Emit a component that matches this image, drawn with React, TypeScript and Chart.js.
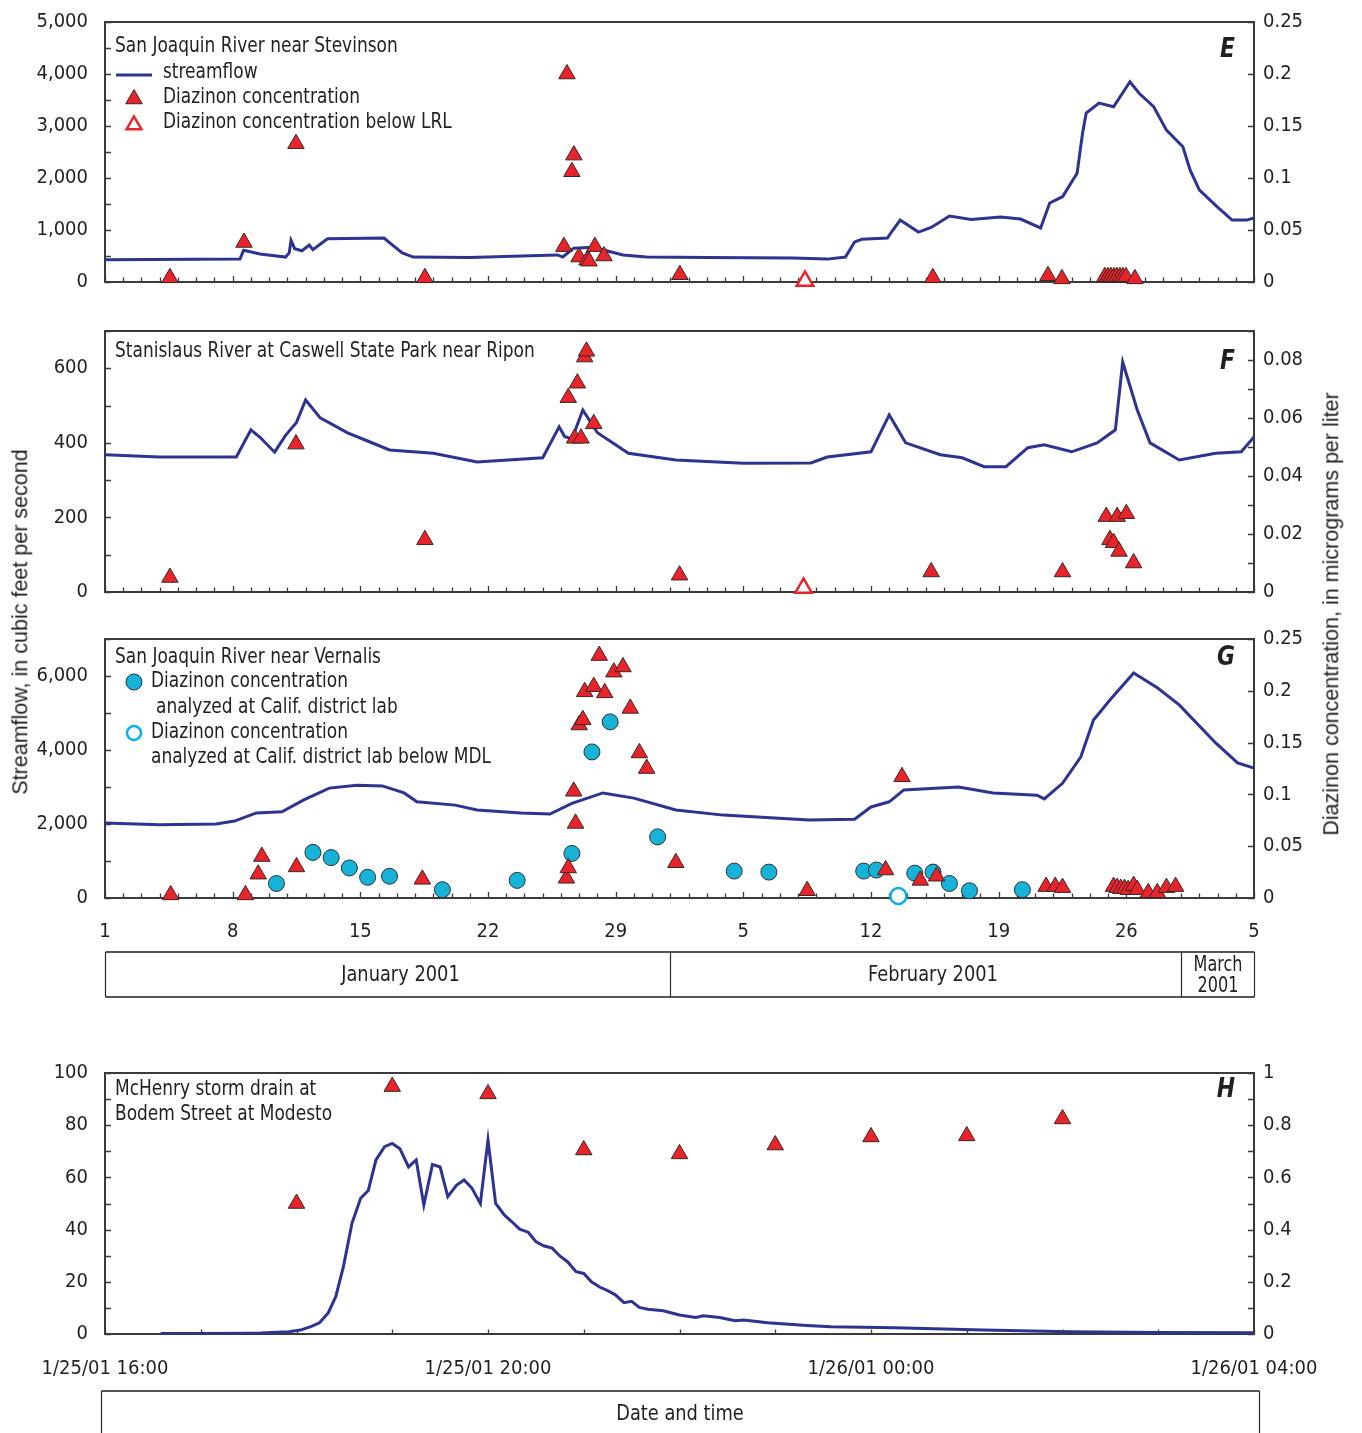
import React, { useEffect, useRef } from 'react';
import { Chart, registerables } from 'chart.js';

Chart.register(...registerables);

// ---------------- DATA ----------------
// x for panels E-G: days since Jan 1, 2001 (0 = Jan 1, 63 = Mar 5)
const dayTickLabels = ['1', '8', '15', '22', '29', '5', '12', '19', '26', '5'];
const hourTickLabels = ['1/25/01 16:00', '1/25/01 20:00', '1/26/01 00:00', '1/26/01 04:00'];
const monthLabels = ['January 2001', 'February 2001', 'March', '2001'];

// E: San Joaquin River near Stevinson
const stevinsonFlowDay = [0, 7.4, 7.6, 8.5, 9.9, 10.1, 10.2, 10.4, 10.8, 11.2, 11.4, 12.2, 15.3, 15.8, 16.3, 16.9, 20, 24.8, 25.1, 25.7, 26.8, 27.5, 28.4, 29.7, 33, 37.7, 39.6, 40.6, 41.1, 41.5, 42.9, 43.2, 43.6, 44.6, 45.3, 46.3, 47.5, 49.1, 50.2, 51.3, 51.8, 52.5, 53.3, 53.6, 53.8, 54.5, 55.3, 56.2, 56.7, 57.5, 58.2, 59.1, 59.5, 60.0, 61.0, 61.8, 62.6, 63];
const stevinsonFlowCfs = [430, 440, 610, 540, 480, 560, 800, 640, 600, 710, 620, 830, 845, 700, 560, 480, 470, 520, 480, 650, 670, 600, 520, 480, 470, 460, 440, 480, 770, 820, 845, 1000, 1190, 960, 1050, 1270, 1200, 1250, 1210, 1040, 1520, 1640, 2090, 2860, 3250, 3440, 3370, 3850, 3630, 3370, 2920, 2600, 2150, 1770, 1440, 1190, 1190, 1230];
const stevinsonConcDay = [3.56, 7.62, 10.47, 17.54, 25.33, 25.71, 25.6, 25.16, 25.99, 26.43, 26.54, 26.86, 27.36, 31.52, 45.39, 51.7, 52.47, 54.82, 54.99, 55.15, 55.32, 55.48, 55.65, 55.81, 55.98, 56.47];
const stevinsonConcUgL = [0.004, 0.038, 0.133, 0.004, 0.2, 0.122, 0.106, 0.034, 0.024, 0.021, 0.02, 0.034, 0.025, 0.007, 0.004, 0.006, 0.003, 0.005, 0.005, 0.005, 0.005, 0.005, 0.005, 0.005, 0.005, 0.003];
const stevinsonLrlDay = [38.38];
const stevinsonLrlUgL = [0.001];

// F: Stanislaus River at Caswell State Park near Ripon
const riponFlowDay = [0, 3, 7.2, 8.0, 8.5, 9.3, 9.9, 10.5, 11.0, 11.8, 13.3, 14.5, 15.6, 18.0, 20.4, 24.0, 24.9, 25.2, 25.6, 26.2, 27.0, 28.7, 31.3, 35, 38.7, 39.6, 42.0, 43.0, 43.9, 45.8, 47.0, 48.2, 49.4, 50.6, 51.5, 53.0, 54.4, 55.4, 55.8, 56.6, 57.3, 58.9, 60.9, 62.3, 63];
const riponFlowCfs = [368, 362, 362, 435, 415, 375, 420, 455, 515, 467, 427, 403, 381, 372, 349, 360, 443, 417, 410, 488, 427, 372, 354, 345, 346, 362, 376, 475, 400, 368, 360, 336, 336, 387, 395, 376, 400, 435, 617, 488, 400, 354, 372, 376, 416];
const riponConcDay = [3.56, 10.47, 17.54, 25.4, 25.9, 26.3, 26.4, 25.75, 26.1, 26.8, 31.5, 45.3, 52.5, 54.9, 55.5, 56.0, 55.1, 55.3, 55.6, 56.4];
const riponConcUgL = [0.005, 0.051, 0.018, 0.067, 0.072, 0.081, 0.083, 0.053, 0.053, 0.058, 0.0058, 0.0069, 0.0069, 0.026, 0.026, 0.027, 0.018, 0.017, 0.014, 0.01];
const riponLrlDay = [38.3];
const riponLrlUgL = [0.0014];

// G: San Joaquin River near Vernalis
const vernalisFlowDay = [0, 3, 6.1, 7.1, 8.3, 9.7, 10.9, 12.3, 13.8, 15.2, 16.4, 17.1, 19.2, 20.4, 22.8, 24.4, 25.6, 27.3, 29.0, 31.3, 33.9, 38.6, 41.1, 42.0, 43.0, 43.8, 46.8, 48.7, 51.1, 51.5, 52.5, 53.5, 54.2, 55.1, 56.4, 57.7, 58.9, 60.9, 62.1, 63];
const vernalisFlowCfs = [2030, 1980, 2000, 2080, 2300, 2330, 2650, 2970, 3050, 3030, 2840, 2600, 2510, 2380, 2300, 2270, 2560, 2840, 2700, 2380, 2240, 2110, 2130, 2460, 2600, 2920, 3000, 2840, 2780, 2680, 3100, 3810, 4810, 5350, 6080, 5680, 5220, 4190, 3650, 3510];
const vernalisConcDay = [3.6, 7.7, 8.4, 8.6, 10.5, 17.4, 25.3, 25.4, 25.7, 25.8, 26.0, 26.2, 26.3, 26.8, 27.1, 27.4, 27.9, 28.4, 28.8, 29.3, 29.7, 31.3, 38.5, 42.8, 43.7, 44.7, 45.6, 51.6, 52.1, 52.5, 55.3, 55.5, 55.7, 55.9, 56.1, 56.4, 56.6, 57.2, 57.7, 58.2, 58.7];
const vernalisConcUgL = [0.003, 0.003, 0.023, 0.04, 0.03, 0.018, 0.019, 0.029, 0.103, 0.072, 0.167, 0.172, 0.199, 0.204, 0.234, 0.198, 0.218, 0.223, 0.183, 0.14, 0.125, 0.034, 0.007, 0.027, 0.117, 0.017, 0.021, 0.011, 0.011, 0.01, 0.011, 0.01, 0.009, 0.009, 0.008, 0.012, 0.008, 0.005, 0.005, 0.01, 0.011];
const vernalisLabDay = [9.4, 11.4, 12.4, 13.4, 14.4, 15.6, 18.5, 22.6, 25.6, 26.7, 27.7, 30.3, 34.5, 36.4, 41.6, 42.3, 44.4, 45.4, 46.3, 47.4, 50.3];
const vernalisLabUgL = [0.014, 0.044, 0.039, 0.029, 0.02, 0.021, 0.008, 0.017, 0.043, 0.141, 0.17, 0.059, 0.026, 0.025, 0.026, 0.027, 0.024, 0.025, 0.014, 0.007, 0.008];
const vernalisMdlDay = [43.5];
const vernalisMdlUgL = [0.002];

// H: McHenry storm drain at Bodem Street at Modesto (x: hours after 1/25/01 16:00)
const mchenryFlowHour = [0.58, 1.0, 1.5, 1.63, 1.92, 2.04, 2.15, 2.24, 2.33, 2.41, 2.49, 2.58, 2.67, 2.75, 2.83, 2.92, 3.0, 3.08, 3.17, 3.25, 3.33, 3.42, 3.5, 3.58, 3.67, 3.75, 3.83, 3.92, 4.0, 4.08, 4.17, 4.25, 4.33, 4.42, 4.5, 4.58, 4.67, 4.75, 4.83, 4.92, 5.0, 5.08, 5.17, 5.25, 5.33, 5.42, 5.5, 5.58, 5.67, 5.83, 6.0, 6.17, 6.25, 6.42, 6.58, 6.67, 6.92, 7.33, 7.58, 8.25, 9.17, 10.08, 11.0, 12.0];
const mchenryFlowCfs = [0.2, 0.2, 0.3, 0.4, 0.9, 1.5, 2.8, 4.3, 8, 14.3, 25.8, 42.5, 52, 55, 66.7, 71.8, 73, 71, 64, 66.7, 49.4, 65, 64, 52.6, 57, 59, 56, 50, 74.3, 50, 45.6, 43, 40.2, 39, 35.4, 33.8, 32.9, 29.9, 27.7, 23.9, 23.2, 20, 17.9, 16.6, 15, 12, 12.5, 10.2, 9.5, 8.9, 7.3, 6.3, 7.0, 6.3, 5.1, 5.4, 4.3, 3.3, 2.8, 2.4, 1.5, 0.9, 0.6, 0.5];
const mchenryConcHour = [2, 3, 4, 5, 6, 7, 8, 9, 10];
const mchenryConcUgL = [0.5, 0.948, 0.92, 0.705, 0.69, 0.724, 0.755, 0.759, 0.824];

// ---------------- STYLE ----------------
const W = 1362;
const PLOT_LEFT = 105;
const PLOT_RIGHT = 1254;
const NARROW = '"DejaVu Sans Condensed", "Liberation Sans Narrow", "Liberation Sans", sans-serif';
const REGULAR = '"Liberation Sans", Arial, sans-serif';
const INK = '#231F20';
const FRAME = '#3a3a3a';
const FLOW_BLUE = '#2D3391';
const RED = '#E8232A';
const CYAN = '#17B2D7';
const OPEN_CYAN = '#0BAEEC';
const TRI_R = 9.5;
const CIR_R = 8;
const SQUEEZE = 0.9; // horizontal compression for annotation text (condensed look)

const pts = (xs: number[], ys: number[]) => xs.map((x, i) => ({ x, y: ys[i] }));
const fmtDec = (v: number) => {
  const r = Math.round(v * 1000) / 1000;
  return r === 0 ? '0' : String(r);
};

function triPath(ctx: CanvasRenderingContext2D, x: number, y: number, r: number) {
  ctx.beginPath();
  ctx.moveTo(x, y - r);
  ctx.lineTo(x + 0.866 * r, y + 0.5 * r);
  ctx.lineTo(x - 0.866 * r, y + 0.5 * r);
  ctx.closePath();
}

function squeezedText(ctx: CanvasRenderingContext2D, text: string, x: number, y: number, s = SQUEEZE) {
  ctx.save();
  ctx.translate(x, y);
  ctx.scale(s, 1);
  ctx.fillText(text, 0, 0);
  ctx.restore();
}

type LegendItem = { kind: string; dx: number; dy: number; text?: string };

interface PanelSpec {
  id: string;
  top: number;
  height: number;
  padTop: number;
  padBottom: number;
  xHeight: number;
  xMax: number;
  xShowLabels: boolean;
  xPad: number;
  xLabel: (v: number) => string;
  xMajor?: number;
  yL: { max: number; step: number; label: (v: number) => string };
  yR: { max: number; step: number; label: (v: number) => string };
  datasets: any[];
  letter: string;
  letterDy: number;
  legend: LegendItem[];
  extra?: (chart: any) => void;
}

const flowLine = (data: any[]) => ({
  type: 'line',
  data,
  yAxisID: 'yL',
  borderColor: FLOW_BLUE,
  borderWidth: 3,
  pointRadius: 0,
  tension: 0,
  fill: false,
  order: 10,
});

const markers = (data: any[], style: string, fill: string, stroke: string, bw: number, order: number) => ({
  type: 'line',
  data,
  yAxisID: 'yR',
  showLine: false,
  pointStyle: style,
  pointRadius: style === 'triangle' ? TRI_R : CIR_R,
  pointBackgroundColor: fill,
  pointBorderColor: stroke,
  pointBorderWidth: bw,
  backgroundColor: fill,
  borderColor: stroke,
  clip: false,
  order,
});

function makeDecor(p: PanelSpec) {
  return {
    id: 'decor_' + p.id,
    beforeDatasetsDraw(chart: any) {
      const { ctx, chartArea: a } = chart;
      const xs = chart.scales.x;
      const yl = chart.scales.yL;
      const yr = chart.scales.yR;
      ctx.save();
      ctx.strokeStyle = FRAME;
      ctx.lineWidth = 1.3;
      ctx.beginPath();
      xs.ticks.forEach((t: any) => {
        const px = Math.round(xs.getPixelForValue(t.value)) + 0.5;
        const len = p.xMajor && Math.round(t.value) % p.xMajor === 0 ? 6 : 4.5;
        ctx.moveTo(px, a.bottom);
        ctx.lineTo(px, a.bottom - len);
      });
      yl.ticks.forEach((t: any) => {
        const py = Math.round(yl.getPixelForValue(t.value)) + 0.5;
        ctx.moveTo(a.left, py);
        ctx.lineTo(a.left + 6, py);
      });
      yr.ticks.forEach((t: any) => {
        const py = Math.round(yr.getPixelForValue(t.value)) + 0.5;
        ctx.moveTo(a.right, py);
        ctx.lineTo(a.right - 6, py);
      });
      ctx.stroke();
      ctx.lineWidth = 2;
      ctx.strokeRect(a.left, a.top, a.right - a.left, a.bottom - a.top);
      ctx.restore();
    },
    afterDraw(chart: any) {
      const { ctx, chartArea: a } = chart;
      ctx.save();
      ctx.textBaseline = 'middle';
      ctx.textAlign = 'left';
      ctx.fillStyle = INK;
      ctx.font = `21px ${NARROW}`;
      p.legend.forEach((it) => {
        const x = a.left + it.dx;
        const y = a.top + it.dy;
        if (it.kind === 'text') {
          ctx.fillStyle = INK;
          squeezedText(ctx, it.text || '', x, y);
        } else if (it.kind === 'line') {
          ctx.strokeStyle = FLOW_BLUE;
          ctx.lineWidth = 3;
          ctx.beginPath();
          ctx.moveTo(x, y);
          ctx.lineTo(x + 36, y);
          ctx.stroke();
        } else if (it.kind === 'tri') {
          triPath(ctx, x, y, TRI_R);
          ctx.fillStyle = RED;
          ctx.fill();
          ctx.strokeStyle = '#3b2626';
          ctx.lineWidth = 1;
          ctx.stroke();
        } else if (it.kind === 'openTri') {
          triPath(ctx, x, y, TRI_R - 1);
          ctx.fillStyle = '#ffffff';
          ctx.fill();
          ctx.strokeStyle = RED;
          ctx.lineWidth = 2.5;
          ctx.stroke();
        } else if (it.kind === 'circle') {
          ctx.beginPath();
          ctx.arc(x, y, CIR_R, 0, Math.PI * 2);
          ctx.fillStyle = CYAN;
          ctx.fill();
          ctx.strokeStyle = '#263238';
          ctx.lineWidth = 1;
          ctx.stroke();
        } else if (it.kind === 'openCircle') {
          ctx.beginPath();
          ctx.arc(x, y, CIR_R - 1, 0, Math.PI * 2);
          ctx.fillStyle = '#ffffff';
          ctx.fill();
          ctx.strokeStyle = OPEN_CYAN;
          ctx.lineWidth = 2.5;
          ctx.stroke();
        }
      });
      ctx.fillStyle = INK;
      ctx.textAlign = 'right';
      ctx.font = `italic bold 27px ${NARROW}`;
      squeezedText(ctx, p.letter, a.right - 19, a.top + p.letterDy);
      ctx.restore();
      if (p.extra) p.extra(chart);
    },
  };
}

function buildConfig(p: PanelSpec): any {
  const tickFont = { family: NARROW, size: 20 };
  return {
    type: 'line',
    data: { datasets: p.datasets },
    options: {
      responsive: false,
      animation: false,
      devicePixelRatio: 1,
      events: [],
      layout: { padding: { top: p.padTop, bottom: p.padBottom, left: 0, right: 0 } },
      plugins: { legend: { display: false }, tooltip: { enabled: false } },
      scales: {
        x: {
          type: 'linear',
          position: 'bottom',
          min: 0,
          max: p.xMax,
          grid: { display: false, drawTicks: false },
          border: { display: false },
          ticks: {
            display: p.xShowLabels,
            stepSize: 1,
            autoSkip: false,
            maxRotation: 0,
            minRotation: 0,
            padding: p.xPad,
            color: INK,
            font: tickFont,
            callback: (v: number) => p.xLabel(v),
          },
          afterFit: (s: any) => {
            s.height = p.xHeight;
          },
        },
        yL: {
          type: 'linear',
          position: 'left',
          min: 0,
          max: p.yL.max,
          grid: { display: false, drawTicks: false },
          border: { display: false },
          ticks: { stepSize: p.yL.step, padding: 17, color: INK, font: tickFont, autoSkip: false, callback: (v: number) => p.yL.label(v) },
          afterFit: (s: any) => {
            s.width = PLOT_LEFT;
          },
        },
        yR: {
          type: 'linear',
          position: 'right',
          min: 0,
          max: p.yR.max,
          grid: { display: false, drawTicks: false },
          border: { display: false },
          ticks: { stepSize: p.yR.step, padding: 9, color: INK, font: tickFont, autoSkip: false, callback: (v: number) => p.yR.label(v) },
          afterFit: (s: any) => {
            s.width = W - PLOT_RIGHT;
          },
        },
      },
    },
    plugins: [makeDecor(p)],
  };
}

function Panel({ spec }: { spec: PanelSpec }) {
  const ref = useRef<HTMLCanvasElement | null>(null);
  useEffect(() => {
    if (!ref.current) return;
    const chart = new Chart(ref.current, buildConfig(spec));
    return () => chart.destroy();
  }, []);
  return (
    <canvas
      ref={ref}
      width={W}
      height={spec.height}
      style={{ position: 'absolute', left: 0, top: spec.top, width: W, height: spec.height }}
    />
  );
}

const noLabel = () => '';
const dayLabel = (v: number) => {
  const d = Math.round(v);
  return d % 7 === 0 ? dayTickLabels[d / 7] : '';
};
const hourLabel = (v: number) => {
  const h = Math.round(v);
  return h % 4 === 0 ? hourTickLabels[h / 4] : '';
};
const thousands = (every: number) => (v: number) => (Math.round(v) % every === 0 ? Math.round(v).toLocaleString('en-US') : '');

const monthBox = (chart: any) => {
  const { ctx, chartArea: a } = chart;
  const xs = chart.scales.x;
  const top = a.bottom + 54;
  const bot = a.bottom + 99;
  const feb = Math.round(xs.getPixelForValue(31)) + 0.5;
  const mar = Math.round(xs.getPixelForValue(59)) + 0.5;
  const l = Math.round(xs.getPixelForValue(0)) + 0.5;
  const r = Math.round(xs.getPixelForValue(63)) + 0.5;
  ctx.save();
  ctx.strokeStyle = '#555555';
  ctx.lineWidth = 2.2;
  ctx.beginPath();
  ctx.moveTo(l, top);
  ctx.lineTo(r, top);
  ctx.moveTo(l, bot);
  ctx.lineTo(r, bot);
  ctx.stroke();
  ctx.strokeStyle = '#2a2a2a';
  ctx.lineWidth = 1.2;
  ctx.beginPath();
  [l, feb, mar, r].forEach((x) => {
    ctx.moveTo(x, top);
    ctx.lineTo(x, bot);
  });
  ctx.stroke();
  ctx.fillStyle = INK;
  ctx.textAlign = 'center';
  ctx.textBaseline = 'middle';
  ctx.font = `22px ${NARROW}`;
  squeezedText(ctx, monthLabels[0], xs.getPixelForValue(16.2), (top + bot) / 2 + 1);
  squeezedText(ctx, monthLabels[1], xs.getPixelForValue(45.4), (top + bot) / 2 + 1);
  ctx.font = `21px ${NARROW}`;
  squeezedText(ctx, monthLabels[2], (mar + r) / 2, top + 14, 0.85);
  squeezedText(ctx, monthLabels[3], (mar + r) / 2, top + 35, 0.85);
  ctx.restore();
};

const dateBox = (chart: any) => {
  const { ctx, chartArea: a } = chart;
  const top = a.bottom + 57;
  const l = a.left - 3.5;
  const r = a.right + 5.5;
  ctx.save();
  ctx.strokeStyle = '#555555';
  ctx.lineWidth = 2.2;
  ctx.beginPath();
  ctx.moveTo(l, top);
  ctx.lineTo(r, top);
  ctx.stroke();
  ctx.lineWidth = 1.2;
  ctx.strokeStyle = '#2a2a2a';
  ctx.beginPath();
  ctx.moveTo(l, top);
  ctx.lineTo(l, chart.height);
  ctx.moveTo(r, top);
  ctx.lineTo(r, chart.height);
  ctx.stroke();
  ctx.fillStyle = INK;
  ctx.textAlign = 'center';
  ctx.textBaseline = 'middle';
  ctx.font = `22px ${NARROW}`;
  squeezedText(ctx, 'Date and time', (a.left + a.right) / 2 + 0.5, top + 23);
  ctx.restore();
};

// Plot areas (page px): E 22-282, F 331-592, G 639-898, H 1073-1334
const panelE: PanelSpec = {
  id: 'E',
  top: -14,
  height: 332,
  padTop: 36,
  padBottom: 36,
  xHeight: 0,
  xMax: 63,
  xShowLabels: false,
  xPad: 0,
  xLabel: noLabel,
  xMajor: 7,
  yL: { max: 5000, step: 500, label: thousands(1000) },
  yR: { max: 0.25, step: 0.05, label: fmtDec },
  datasets: [
    markers(pts(stevinsonLrlDay, stevinsonLrlUgL), 'triangle', '#ffffff', RED, 2.5, 1),
    markers(pts(stevinsonConcDay, stevinsonConcUgL), 'triangle', RED, '#3b2626', 1, 2),
    flowLine(pts(stevinsonFlowDay, stevinsonFlowCfs)),
  ],
  letter: 'E',
  letterDy: 28,
  legend: [
    { kind: 'text', dx: 10, dy: 25, text: 'San Joaquin River near Stevinson' },
    { kind: 'line', dx: 11, dy: 53 },
    { kind: 'text', dx: 58, dy: 51, text: 'streamflow' },
    { kind: 'tri', dx: 29, dy: 77 },
    { kind: 'text', dx: 58, dy: 76, text: 'Diazinon concentration' },
    { kind: 'openTri', dx: 29, dy: 103 },
    { kind: 'text', dx: 58, dy: 101, text: 'Diazinon concentration below LRL' },
  ],
};

const panelF: PanelSpec = {
  id: 'F',
  top: 295,
  height: 333,
  padTop: 36,
  padBottom: 36,
  xHeight: 0,
  xMax: 63,
  xShowLabels: false,
  xPad: 0,
  xLabel: noLabel,
  xMajor: 7,
  yL: { max: 700, step: 100, label: (v) => (Math.round(v) % 200 === 0 ? String(Math.round(v)) : '') },
  yR: {
    max: 0.09,
    step: 0.01,
    label: (v) => {
      const k = Math.round(v * 100);
      return k % 2 === 0 ? (k === 0 ? '0' : (k / 100).toFixed(2)) : '';
    },
  },
  datasets: [
    markers(pts(riponLrlDay, riponLrlUgL), 'triangle', '#ffffff', RED, 2.5, 1),
    markers(pts(riponConcDay, riponConcUgL), 'triangle', RED, '#3b2626', 1, 2),
    flowLine(pts(riponFlowDay, riponFlowCfs)),
  ],
  letter: 'F',
  letterDy: 31,
  legend: [{ kind: 'text', dx: 10, dy: 21, text: 'Stanislaus River at Caswell State Park near Ripon' }],
};

const panelG: PanelSpec = {
  id: 'G',
  top: 603,
  height: 407,
  padTop: 36,
  padBottom: 62,
  xHeight: 50,
  xMax: 63,
  xShowLabels: true,
  xPad: 22,
  xLabel: dayLabel,
  xMajor: 7,
  yL: { max: 7000, step: 1000, label: thousands(2000) },
  yR: { max: 0.25, step: 0.05, label: fmtDec },
  datasets: [
    markers(pts(vernalisConcDay, vernalisConcUgL), 'triangle', RED, '#3b2626', 1, 1),
    markers(pts(vernalisMdlDay, vernalisMdlUgL), 'circle', '#ffffff', OPEN_CYAN, 2.5, 2),
    markers(pts(vernalisLabDay, vernalisLabUgL), 'circle', CYAN, '#263238', 1, 3),
    flowLine(pts(vernalisFlowDay, vernalisFlowCfs)),
  ],
  letter: 'G',
  letterDy: 19,
  legend: [
    { kind: 'text', dx: 10, dy: 19, text: 'San Joaquin River near Vernalis' },
    { kind: 'circle', dx: 29, dy: 43 },
    { kind: 'text', dx: 46, dy: 43, text: 'Diazinon concentration' },
    { kind: 'text', dx: 51, dy: 69, text: 'analyzed at Calif. district lab' },
    { kind: 'openCircle', dx: 29, dy: 94 },
    { kind: 'text', dx: 46, dy: 94, text: 'Diazinon concentration' },
    { kind: 'text', dx: 46, dy: 119, text: 'analyzed at Calif. district lab below MDL' },
  ],
  extra: monthBox,
};

const panelH: PanelSpec = {
  id: 'H',
  top: 1015,
  height: 418,
  padTop: 58,
  padBottom: 49,
  xHeight: 50,
  xMax: 12,
  xShowLabels: true,
  xPad: 23,
  xLabel: hourLabel,
  yL: { max: 100, step: 10, label: (v) => (Math.round(v) % 20 === 0 ? String(Math.round(v)) : '') },
  yR: {
    max: 1,
    step: 0.1,
    label: (v) => {
      const k = Math.round(v * 10);
      return k % 2 === 0 ? (k === 0 ? '0' : k === 10 ? '1' : (k / 10).toFixed(1)) : '';
    },
  },
  datasets: [
    markers(pts(mchenryConcHour, mchenryConcUgL), 'triangle', RED, '#3b2626', 1, 1),
    flowLine(pts(mchenryFlowHour, mchenryFlowCfs)),
  ],
  letter: 'H',
  letterDy: 17,
  legend: [
    { kind: 'text', dx: 10, dy: 17, text: 'McHenry storm drain at' },
    { kind: 'text', dx: 10, dy: 42, text: 'Bodem Street at Modesto' },
  ],
  extra: dateBox,
};

export default function App() {
  const titleStyle: React.CSSProperties = {
    position: 'absolute',
    whiteSpace: 'nowrap',
    font: `21.5px ${REGULAR}`,
    color: INK,
    transform: 'translate(-50%, -50%) rotate(-90deg)',
    lineHeight: '1',
  };
  return (
    <div style={{ position: 'absolute', left: 0, top: 0, width: W, height: 1433, background: '#ffffff', overflow: 'hidden' }}>
      <Panel spec={panelE} />
      <Panel spec={panelF} />
      <Panel spec={panelG} />
      <Panel spec={panelH} />
      <div style={{ ...titleStyle, left: 21, top: 622 }}>Streamflow, in cubic feet per second</div>
      <div style={{ ...titleStyle, left: 1332, top: 614 }}>Diazinon concentration, in micrograms per liter</div>
    </div>
  );
}
